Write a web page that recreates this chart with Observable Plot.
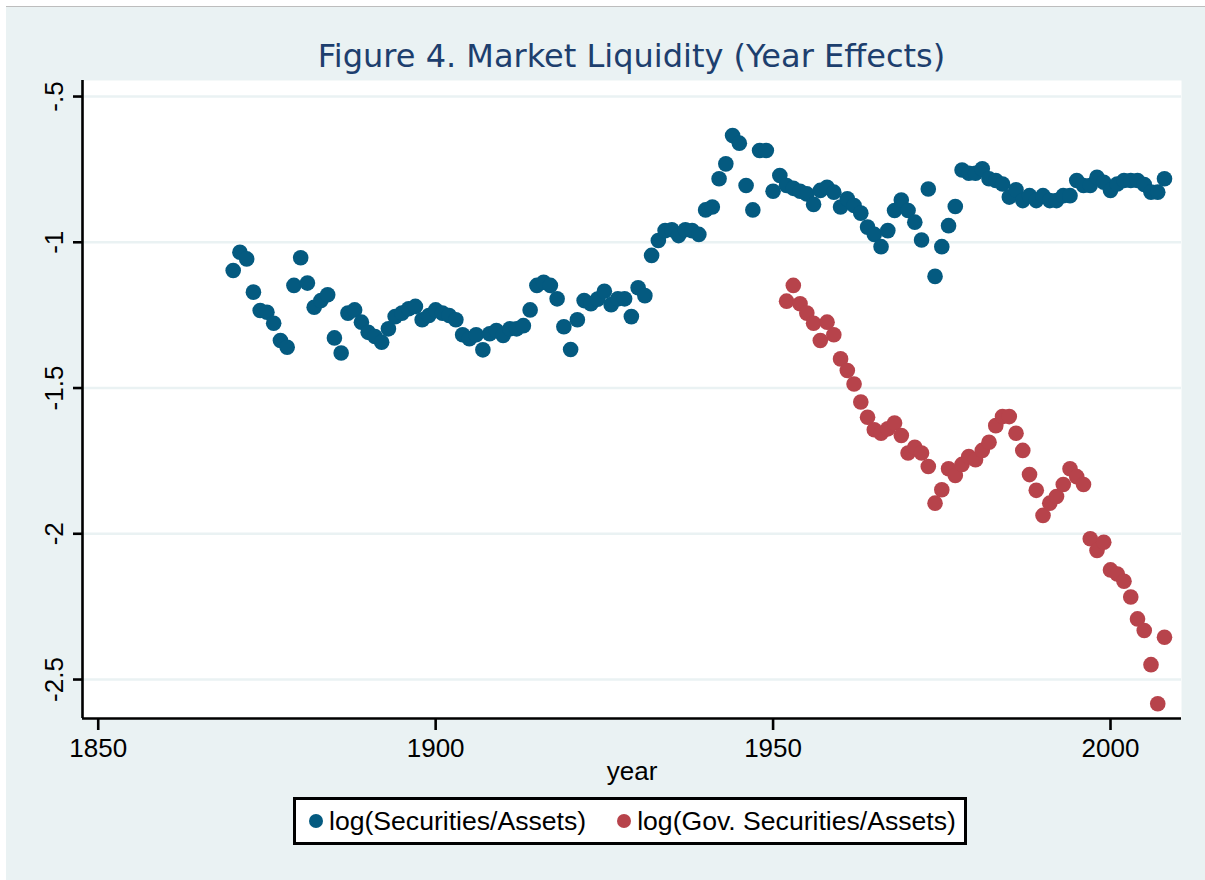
<!DOCTYPE html>
<html><head><meta charset="utf-8">
<script src="https://cdn.jsdelivr.net/npm/d3@7"></script>
<script src="https://cdn.jsdelivr.net/npm/@observablehq/plot@0.6"></script>
<style>
html,body{margin:0;padding:0;background:#fff;}
#page{position:relative;width:1205px;height:880px;overflow:hidden;}
#bg{position:absolute;left:6px;top:6px;right:0;bottom:0;background:#EAF2F3;border-top:1px solid #bdbdbd;}
#title{position:absolute;left:82px;width:1099px;top:40px;text-align:center;font-family:"DejaVu Sans",sans-serif;font-size:32px;line-height:32px;color:#1d3f6e;white-space:nowrap;}
#chart{position:absolute;left:0;top:0;}
#legend{position:absolute;left:293px;top:797px;width:668px;height:42px;border:3px solid #000;background:#fff;font-family:"Liberation Sans",Arial,sans-serif;font-size:26.6px;display:flex;align-items:center;white-space:nowrap;overflow:hidden;}
.item{display:flex;align-items:center;}
.sw{width:14px;height:14px;border-radius:50%;margin-right:6px;}
</style>
</head>
<body>
<div id="page"><div id="bg"></div><div id="chart"></div><div id="title"></div><div id="legend"></div></div>
<script>
const secYears = [1870,1871,1872,1873,1874,1875,1876,1877,1878,1879,1880,1881,1882,1883,1884,1885,1886,1887,1888,1889,
1890,1891,1892,1893,1894,1895,1896,1897,1898,1899,1900,1901,1902,1903,1904,1905,1906,1907,1908,1909,
1910,1911,1912,1913,1914,1915,1916,1917,1918,1919,1920,1921,1922,1923,1924,1925,1926,1927,1928,1929,
1930,1931,1932,1933,1934,1935,1936,1937,1938,1939,1940,1941,1942,1943,1944,1945,1946,1947,1948,1949,
1950,1951,1952,1953,1954,1955,1956,1957,1958,1959,1960,1961,1962,1963,1964,1965,1966,1967,1968,1969,
1970,1971,1972,1973,1974,1975,1976,1977,1978,1979,1980,1981,1982,1983,1984,1985,1986,1987,1988,1989,
1990,1991,1992,1993,1994,1995,1996,1997,1998,1999,2000,2001,2002,2003,2004,2005,2006,2007,2008];
const secValues = [-1.097,-1.034,-1.057,-1.171,-1.234,-1.240,-1.278,-1.337,-1.360,-1.148,
-1.053,-1.140,-1.223,-1.200,-1.180,-1.328,-1.380,-1.243,-1.232,-1.274,
-1.309,-1.323,-1.343,-1.297,-1.255,-1.243,-1.228,-1.220,-1.266,-1.251,
-1.232,-1.243,-1.251,-1.266,-1.317,-1.331,-1.317,-1.369,-1.314,-1.303,
-1.320,-1.297,-1.297,-1.286,-1.232,-1.148,-1.137,-1.148,-1.194,-1.290,
-1.368,-1.266,-1.200,-1.211,-1.195,-1.168,-1.214,-1.194,-1.194,-1.255,
-1.156,-1.183,-1.045,-0.994,-0.960,-0.957,-0.977,-0.957,-0.960,-0.973,
-0.889,-0.879,-0.782,-0.731,-0.634,-0.660,-0.805,-0.889,-0.685,-0.685,
-0.825,-0.771,-0.805,-0.815,-0.825,-0.834,-0.870,-0.822,-0.811,-0.828,
-0.879,-0.851,-0.874,-0.900,-0.948,-0.973,-1.015,-0.960,-0.891,-0.855,
-0.891,-0.931,-0.992,-0.817,-1.117,-1.015,-0.943,-0.877,-0.752,-0.763,
-0.763,-0.748,-0.782,-0.788,-0.800,-0.845,-0.820,-0.857,-0.840,-0.857,
-0.840,-0.857,-0.857,-0.840,-0.840,-0.788,-0.805,-0.805,-0.777,-0.794,
-0.822,-0.800,-0.788,-0.788,-0.788,-0.802,-0.828,-0.828,-0.782];
const govYears = [1952,1953,1954,1955,1956,1957,1958,1959,1960,1961,1962,1963,1964,1965,1966,1967,1968,1969,
1970,1971,1972,1973,1974,1975,1976,1977,1978,1979,1980,1981,1982,1983,1984,1985,1986,1987,1988,1989,
1990,1991,1992,1993,1994,1995,1996,1997,1998,1999,2000,2001,2002,2003,2004,2005,2006,2007,2008];
const govValues = [-1.202,-1.148,-1.211,-1.243,-1.278,-1.337,-1.274,-1.317,-1.400,-1.440,
-1.486,-1.548,-1.600,-1.643,-1.655,-1.640,-1.620,-1.663,-1.723,-1.703,
-1.723,-1.769,-1.895,-1.849,-1.777,-1.800,-1.762,-1.735,-1.746,-1.714,
-1.686,-1.629,-1.598,-1.598,-1.655,-1.714,-1.797,-1.851,-1.937,-1.895,
-1.872,-1.831,-1.777,-1.804,-1.831,-2.017,-2.057,-2.029,-2.124,-2.138,
-2.163,-2.217,-2.292,-2.332,-2.449,-2.583,-2.355];
const seriesNames = ["log(Securities/Assets)", "log(Gov. Securities/Assets)"];
const seriesColors = ["#045a80", "#b7434b"];
const xTicks = [1850, 1900, 1950, 2000];
const yTicks = [-2.5, -2, -1.5, -1, -0.5];
const yTickLabels = ["-2.5", "-2", "-1.5", "-1", "-.5"];
const titleText = "Figure 4. Market Liquidity (Year Effects)";
const xLabel = "year";

const sec = secYears.map((y, i) => ({year: y, value: secValues[i]}));
const gov = govYears.map((y, i) => ({year: y, value: govValues[i]}));
const xDomain = [1847.67, 2010.52];
const yDomain = [-2.6337, -0.445];

const chart = Plot.plot({
  width: 1205, height: 790,
  marginLeft: 82, marginRight: 24, marginTop: 80, marginBottom: 72,
  style: {background: "transparent", fontFamily: "'Liberation Sans', Arial, sans-serif", color: "black", overflow: "visible"},
  x: {domain: xDomain},
  y: {domain: yDomain},
  marks: [
    Plot.frame({fill: "white", stroke: "none"}),
    Plot.gridY(yTicks, {stroke: "#EAF2F3", strokeOpacity: 1, strokeWidth: 2.5}),
    Plot.dot(sec, {x: "year", y: "value", r: 7.8, fill: seriesColors[0], stroke: "none"}),
    Plot.dot(gov, {x: "year", y: "value", r: 7.8, fill: seriesColors[1], stroke: "none"}),
    Plot.ruleX([xDomain[0]], {stroke: "black", strokeWidth: 2.6}),
    Plot.ruleY([yDomain[0]], {stroke: "black", strokeWidth: 2.6}),
    Plot.axisX(xTicks, {tickSize: 12, tickPadding: 8, fontSize: 26, strokeWidth: 2.6, label: null, tickFormat: d => String(d)}),
    Plot.axisY(yTicks, {tickSize: 9, tickFormat: () => "", strokeWidth: 2.6, label: null}),
    Plot.text(yTicks, {y: d => d, text: (d, i) => yTickLabels[i], frameAnchor: "left", dx: -20, rotate: -90, textAnchor: "middle", lineAnchor: "bottom", fontSize: 26}),
    Plot.text([xLabel], {text: d => d, frameAnchor: "bottom", dy: 61, lineAnchor: "bottom", fontSize: 26})
  ]
});
document.getElementById("chart").appendChild(chart);
document.getElementById("title").textContent = titleText;

const legend = document.getElementById("legend");
seriesNames.forEach((name, i) => {
  const item = document.createElement("div");
  item.className = "item";
  item.style.marginLeft = i === 0 ? "13px" : "31px";
  const sw = document.createElement("span");
  sw.className = "sw";
  sw.style.background = seriesColors[i];
  const tx = document.createElement("span");
  tx.textContent = name;
  item.appendChild(sw);
  item.appendChild(tx);
  legend.appendChild(item);
});
</script>
</body></html>
